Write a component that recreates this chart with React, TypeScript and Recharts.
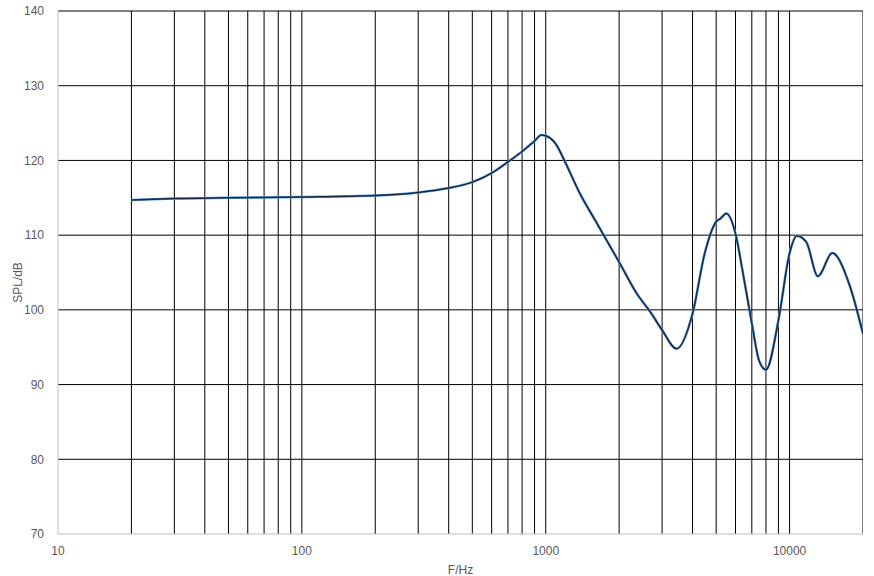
import React from "react";
import {
  CartesianGrid,
  Line,
  LineChart,
  ReferenceLine,
  XAxis,
  YAxis
} from "recharts";

// frequency response
const freqs = [
  20, 30, 50, 100, 200, 300, 400, 500, 600, 700, 800, 900, 960, 1000, 1100, 1200, 1380,
  1600, 2000, 2360, 2700, 3000, 3440, 4000, 4490, 5000, 5200, 5500, 6000, 6440,
  7000, 7500, 8000, 9000, 10000, 10700, 11700, 13060, 14970, 17620, 20000
];
const spl = [
  114.7, 114.9, 115.0, 115.1, 115.3, 115.7, 116.3, 117.1, 118.3, 119.8, 121.2, 122.6,
  123.4, 123.3, 122.2, 119.8, 115.6, 111.9, 106.4, 102.2, 99.6, 97.3, 94.8, 99.5, 107.6,
  111.8, 112.2, 112.9, 110.2, 104.9, 98.2, 93.2, 92.0, 98.6, 107.6, 109.9, 109.1,
  104.5, 107.6, 103.3, 96.8
];

const xTicks = [10, 100, 1000, 10000];
const yTicks = [70, 80, 90, 100, 110, 120, 130, 140];
const gridFreqs = [
  20, 30, 40, 50, 60, 70, 80, 90, 100, 200, 300, 400, 500, 600, 700, 800, 900, 1000,
  2000, 3000, 4000, 5000, 6000, 7000, 8000, 9000, 10000, 20000
];

const data = freqs.map((f, i) => ({ f, spl: spl[i] }));

const tickStyle = { fontSize: 12, fill: "#595959", fontFamily: "Liberation Sans, Arial, sans-serif" };

export default function App() {
  return (
    <div style={{ position: "absolute", left: 0, top: 0, width: 874, height: 576, background: "#fff" }}>
      <LineChart width={874} height={576} data={data} margin={{ top: 11, right: 11, left: 0, bottom: 0 }}>
        <CartesianGrid vertical={false} stroke="#000" strokeWidth={1} horizontalValues={yTicks.slice(1)} />
        {gridFreqs.map((g) => (
          <ReferenceLine key={g} x={g} stroke="#000" strokeWidth={1} ifOverflow="hidden" />
        ))}
        <XAxis
          dataKey="f"
          type="number"
          scale="log"
          domain={[10, 20000]}
          ticks={xTicks}
          allowDataOverflow
          height={42}
          stroke="#bfbfbf"
          tickLine={false}
          tick={tickStyle}
          tickMargin={6}
          label={{ value: "F/Hz", position: "insideBottom", offset: 2, style: tickStyle }}
        />
        <YAxis
          type="number"
          domain={[70, 140]}
          ticks={yTicks}
          width={58}
          stroke="#bfbfbf"
          tickLine={false}
          tick={tickStyle}
          tickMargin={8}
          label={{ value: "SPL/dB", angle: -90, position: "insideLeft", offset: 18, dy: 10, style: { ...tickStyle, textAnchor: "middle" } }}
        />
        <Line dataKey="spl" type="monotone" stroke="#5b9bd5" strokeWidth={2.6} dot={false} isAnimationActive={false} />
        <Line dataKey="spl" type="monotone" stroke="#172a4a" strokeWidth={1.5} dot={false} isAnimationActive={false} />
      </LineChart>
    </div>
  );
}
